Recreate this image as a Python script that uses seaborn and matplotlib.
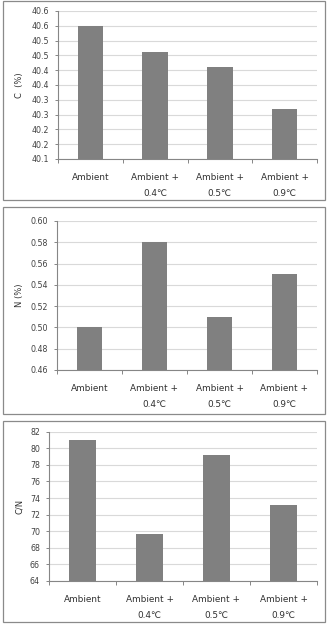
import matplotlib
matplotlib.use("Agg")
import matplotlib.pyplot as plt
import seaborn as sns
import pandas as pd
from matplotlib.patches import Rectangle

sns.set_theme(style="white")
plt.rcParams['font.family'] = ['DejaVu Sans', 'Noto Sans CJK KR']

categories = ["Ambient", "Ambient +\n0.4℃", "Ambient +\n0.5℃", "Ambient +\n0.9℃"]

c_values = [40.55, 40.46, 40.41, 40.27]
c_ticks = [40.10, 40.15, 40.20, 40.25, 40.30, 40.35, 40.40, 40.45, 40.50, 40.55, 40.60]
c_tick_labels = ["40.1", "40.2", "40.2", "40.3", "40.3", "40.4", "40.4", "40.5", "40.5", "40.6", "40.6"]

n_values = [0.50, 0.58, 0.51, 0.55]
n_ticks = [0.46, 0.48, 0.50, 0.52, 0.54, 0.56, 0.58, 0.60]
n_tick_labels = ["0.46", "0.48", "0.50", "0.52", "0.54", "0.56", "0.58", "0.60"]

cn_values = [81.0, 69.7, 79.2, 73.2]
cn_ticks = [64, 66, 68, 70, 72, 74, 76, 78, 80, 82]
cn_tick_labels = ["64", "66", "68", "70", "72", "74", "76", "78", "80", "82"]

W, H = 329, 625
fig = plt.figure(figsize=(W / 100, H / 100), dpi=100)

def rect(left, right, top, bottom):
    return [left / W, 1 - bottom / H, (right - left) / W, (bottom - top) / H]

panels = [
    dict(vals=c_values, ticks=c_ticks, labels=c_tick_labels, ylabel="C  (%)",
         pos=rect(58, 317, 11, 159), box=(3, 325, 1, 200)),
    dict(vals=n_values, ticks=n_ticks, labels=n_tick_labels, ylabel="N (%)",
         pos=rect(57, 317, 221, 370), box=(3, 325, 207, 414)),
    dict(vals=cn_values, ticks=cn_ticks, labels=cn_tick_labels, ylabel="C/N",
         pos=rect(49, 317, 431.7, 581), box=(3, 325, 421, 622)),
]

spine_col = "#868686"
for p in panels:
    l, r, t, b = p["box"]
    fig.patches.append(Rectangle((l / W, 1 - b / H), (r - l) / W, (b - t) / H,
                                 transform=fig.transFigure, fill=False,
                                 edgecolor="#8a8a8a", linewidth=0.9))
    ax = fig.add_axes(p["pos"])
    df = pd.DataFrame({"cat": categories, "val": p["vals"]})
    sns.barplot(data=df, x="cat", y="val", ax=ax, color="#808080",
                saturation=1, width=0.39, edgecolor="none")
    ax.set_ylim(p["ticks"][0], p["ticks"][-1])
    ax.set_xlim(-0.5, 3.5)
    ax.set_yticks(p["ticks"])
    ax.set_yticklabels(p["labels"])
    ax.yaxis.grid(True, color="#d9d9d9", linewidth=0.8)
    ax.set_axisbelow(True)
    for s in ["top", "right"]:
        ax.spines[s].set_visible(False)
    for s in ["left", "bottom"]:
        ax.spines[s].set_color(spine_col)
        ax.spines[s].set_linewidth(0.8)
    ax.tick_params(axis="y", which="major", left=True, length=2.5, width=0.7,
                   color=spine_col, labelsize=5.7, labelcolor="#404040", pad=4)
    ax.tick_params(axis="x", which="major", length=0, labelsize=6.4,
                   labelcolor="#303030", pad=10)
    ax.set_xticks([-0.5, 0.5, 1.5, 2.5, 3.5], minor=True)
    ax.tick_params(axis="x", which="minor", bottom=True, length=3, width=0.7,
                   color=spine_col)
    for lab in ax.get_xticklabels():
        lab.set_linespacing(2.0)
    ax.set_xlabel("")
    ax.set_ylabel(p["ylabel"], fontsize=6, color="#303030")
    left_px = p["pos"][0] * W
    width_px = p["pos"][2] * W
    ax.yaxis.set_label_coords((24 - left_px) / width_px, 0.5)

fig.savefig("out.png", dpi=100)
